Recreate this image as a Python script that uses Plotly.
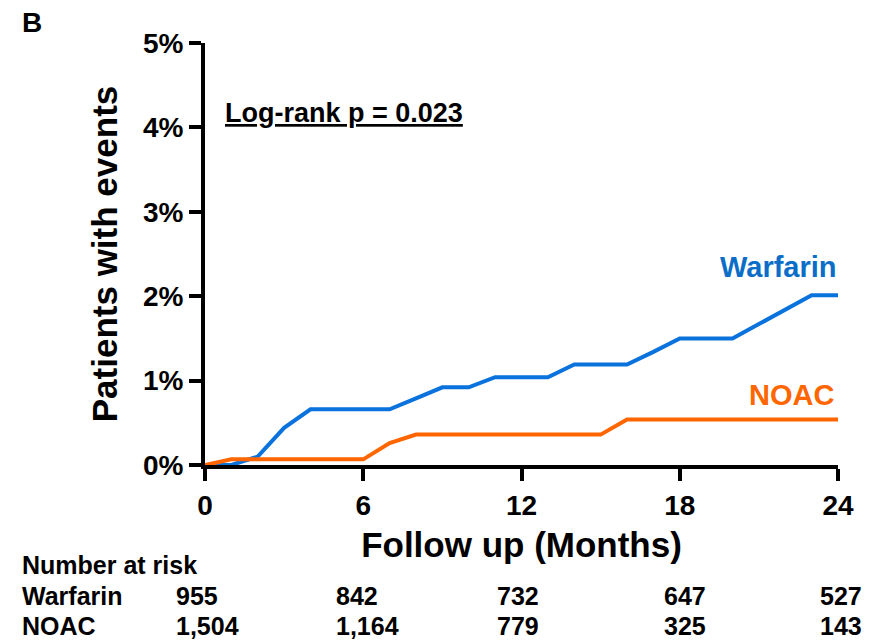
import plotly.graph_objects as go

months = list(range(0, 25))
warfarin = [0, 0, 0.10, 0.44, 0.66, 0.66, 0.66, 0.66, 0.79, 0.92, 0.92, 1.04, 1.04, 1.04,
            1.19, 1.19, 1.19, 1.34, 1.50, 1.50, 1.50, 1.67, 1.84, 2.01, 2.01]
noac = [0, 0.067, 0.067, 0.067, 0.067, 0.067, 0.067, 0.26, 0.36, 0.36, 0.36, 0.36, 0.36, 0.36,
        0.36, 0.36, 0.54, 0.54, 0.54, 0.54, 0.54, 0.54, 0.54, 0.54, 0.54]

x_ticks = [0, 6, 12, 18, 24]
y_ticks = [0, 1, 2, 3, 4, 5]
y_tick_labels = ["0%", "1%", "2%", "3%", "4%", "5%"]

risk_groups = ["Warfarin", "NOAC"]
risk_warfarin = ["955", "842", "732", "647", "527"]
risk_noac = ["1,504", "1,164", "779", "325", "143"]
risk_x_px = [174, 334, 495, 662, 818]

BLUE = "#0A72DC"
BLUE_TXT = "#0A6EC8"
ORANGE = "#FF6600"
FONT = "Liberation Sans, Arial, sans-serif"

OFF = 8  # page body margin
W, H = 870 - OFF, 644 - OFF
# plot area in reference pixels: x 205..838, y 43..465
L = 205 - OFF
R = W - (838 - OFF)
T = 43 - OFF
B = H - (465 - OFF)

def px_x(px):
    return (px - OFF - L) / (W - L - R)

def px_y(py):
    return (H - B - (py - OFF)) / (H - T - B)

fig = go.Figure()
fig.add_trace(go.Scatter(x=months, y=warfarin, mode="lines",
                         line=dict(color=BLUE, width=4), showlegend=False, cliponaxis=False))
fig.add_trace(go.Scatter(x=months, y=noac, mode="lines",
                         line=dict(color=ORANGE, width=4), showlegend=False, cliponaxis=False))

ann = []
ann.append(dict(x=px_x(839), y=px_y(267), xref="paper", yref="paper", text="<b>Warfarin</b>",
                showarrow=False, xanchor="right", yanchor="middle",
                font=dict(family=FONT, size=29, color=BLUE_TXT)))
ann.append(dict(x=px_x(836), y=px_y(395), xref="paper", yref="paper", text="<b>NOAC</b>",
                showarrow=False, xanchor="right", yanchor="middle",
                font=dict(family=FONT, size=29, color=ORANGE)))
ann.append(dict(x=px_x(223), y=px_y(113), xref="paper", yref="paper",
                text="<b><u>Log-rank p = 0.023</u></b>", showarrow=False,
                xanchor="left", yanchor="middle",
                font=dict(family=FONT, size=27, color="black")))
ann.append(dict(x=px_x(20), y=px_y(22), xref="paper", yref="paper",
                text="<b>B</b>", showarrow=False, xanchor="left", yanchor="middle",
                font=dict(family=FONT, size=28, color="black")))
ann.append(dict(x=px_x(20), y=px_y(565), xref="paper", yref="paper",
                text="<b>Number at risk</b>", showarrow=False, xanchor="left", yanchor="middle",
                font=dict(family=FONT, size=25, color="black")))
for row, (name, vals) in enumerate(zip(risk_groups, [risk_warfarin, risk_noac])):
    ypx = 596 + row * 30
    ann.append(dict(x=px_x(20), y=px_y(ypx), xref="paper", yref="paper",
                    text="<b>%s</b>" % name, showarrow=False, xanchor="left", yanchor="middle",
                    font=dict(family=FONT, size=25, color="black")))
    for xp, v in zip(risk_x_px, vals):
        ann.append(dict(x=px_x(xp), y=px_y(ypx), xref="paper", yref="paper",
                        text="<b>%s</b>" % v, showarrow=False, xanchor="left", yanchor="middle",
                        font=dict(family=FONT, size=25, color="black")))

fig.update_layout(
    width=W, height=H,
    margin=dict(l=L, r=R, t=T, b=B, pad=0, autoexpand=False),
    paper_bgcolor="white", plot_bgcolor="white",
    annotations=ann,
    font=dict(family=FONT, color="black"),
    xaxis=dict(range=[0, 24], tickvals=x_ticks, ticktext=["<b>%d</b>" % v for v in x_ticks],
               showgrid=False, zeroline=False, showline=True, linewidth=4, linecolor="black",
               ticks="outside", ticklen=12, tickwidth=4, tickcolor="black", automargin=False,
               tickfont=dict(family=FONT, size=28, color="black"),
               title=dict(text="<b>Follow up (Months)</b>", standoff=14,
                          font=dict(family=FONT, size=35, color="black"))),
    yaxis=dict(range=[0, 5], tickvals=y_ticks, ticktext=["<b>%s</b>" % t for t in y_tick_labels],
               showgrid=False, zeroline=False, showline=True, linewidth=4, linecolor="black",
               ticks="outside", ticklen=12, tickwidth=4, tickcolor="black", automargin=False,
               tickfont=dict(family=FONT, size=28, color="black"),
               title=dict(text="<b>Patients with events</b>", standoff=16,
                          font=dict(family=FONT, size=35, color="black"))),
)

fig.write_html("out.html")
